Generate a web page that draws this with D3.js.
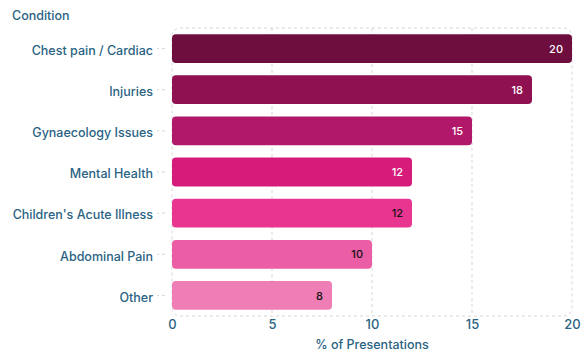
<!DOCTYPE html>
<html>
<head>
<meta charset="utf-8">
<script src="https://cdn.jsdelivr.net/npm/d3@7"></script>
<style>
  body { margin: 0; background: #fff; }
  text { font-family: Inter, "Noto Sans", sans-serif; }
</style>
</head>
<body>
<div id="chart"></div>
<script>
// Chart data
const conditions = ["Chest pain / Cardiac", "Injuries", "Gynaecology Issues", "Mental Health",
  "Children's Acute Illness", "Abdominal Pain", "Other"];
const percents = [20, 18, 15, 12, 12, 10, 8];
const barColors = ["#6d0e3f", "#8f1152", "#b2186a", "#d61b7a", "#e8358f", "#eb5ea6", "#ef7db6"];
const labelColors = ["#fff", "#fff", "#fff", "#fff", "#111", "#111", "#111"];
const xTicks = [0, 5, 10, 15, 20];

const W = 585, H = 353;
const m = { top: 28, right: 13, bottom: 37, left: 172 };
const axisColor = "#2a6383";

const svg = d3.select("#chart").append("svg")
  .attr("width", W).attr("height", H);

const x = d3.scaleLinear().domain([0, 20]).range([m.left, W - m.right]);
const y = d3.scaleBand().domain(conditions).range([m.top, H - m.bottom]).paddingInner(0.3).paddingOuter(0.15);

// dashed grid at inner ticks
svg.append("g").selectAll("line")
  .data(xTicks.slice(1, -1))
  .join("line")
  .attr("x1", d => x(d)).attr("x2", d => x(d))
  .attr("y1", m.top).attr("y2", H - m.bottom)
  .attr("stroke", "#d6d6d6").attr("stroke-dasharray", "3,3");

// rounded dashed frame
svg.append("rect")
  .attr("x", x(0)).attr("y", m.top)
  .attr("width", x(20) - x(0)).attr("height", H - m.bottom - m.top)
  .attr("rx", 8)
  .attr("fill", "none").attr("stroke", "#d6d6d6").attr("stroke-dasharray", "3,3");

// bars
svg.append("g").selectAll("rect")
  .data(conditions)
  .join("rect")
  .attr("x", x(0))
  .attr("y", d => y(d))
  .attr("width", (d, i) => x(percents[i]) - x(0))
  .attr("height", y.bandwidth())
  .attr("rx", 4)
  .attr("fill", (d, i) => barColors[i]);

// value labels
svg.append("g").selectAll("text")
  .data(conditions)
  .join("text")
  .attr("x", (d, i) => x(percents[i]) - 9)
  .attr("y", d => y(d) + y.bandwidth() / 2)
  .attr("dy", "0.38em")
  .attr("text-anchor", "end")
  .attr("font-size", 11)
  .attr("font-weight", 500)
  .attr("fill", (d, i) => labelColors[i])
  .text((d, i) => percents[i]);

// y axis
const yAxis = svg.append("g")
  .attr("transform", `translate(${x(0) - 7},0)`)
  .call(d3.axisLeft(y).tickSize(8).tickPadding(4));
yAxis.select(".domain").remove();
yAxis.selectAll(".tick line").attr("stroke", "#d6d6d6").attr("stroke-dasharray", "3,3");
yAxis.selectAll(".tick text").attr("fill", axisColor).attr("font-size", 12.5)
  .attr("font-weight", 500).attr("dy", "0.5em")
  .style("font-family", "Inter, sans-serif");

// x axis
const xAxis = svg.append("g")
  .attr("transform", `translate(0,${H - m.bottom})`)
  .call(d3.axisBottom(x).tickValues(xTicks).tickSize(0).tickPadding(4));
xAxis.select(".domain").remove();
xAxis.selectAll(".tick text").attr("fill", axisColor).attr("font-size", 13)
  .attr("font-weight", 500)
  .style("font-family", "Inter, sans-serif");

// titles
svg.append("text")
  .attr("x", (x(0) + x(20)) / 2).attr("y", 349)
  .attr("text-anchor", "middle")
  .attr("fill", axisColor).attr("font-size", 12.5).attr("font-weight", 500)
  .text("% of Presentations");

svg.append("text")
  .attr("x", 12).attr("y", 20)
  .attr("fill", axisColor).attr("font-size", 12.5).attr("font-weight", 500)
  .text("Condition");
</script>
</body>
</html>
